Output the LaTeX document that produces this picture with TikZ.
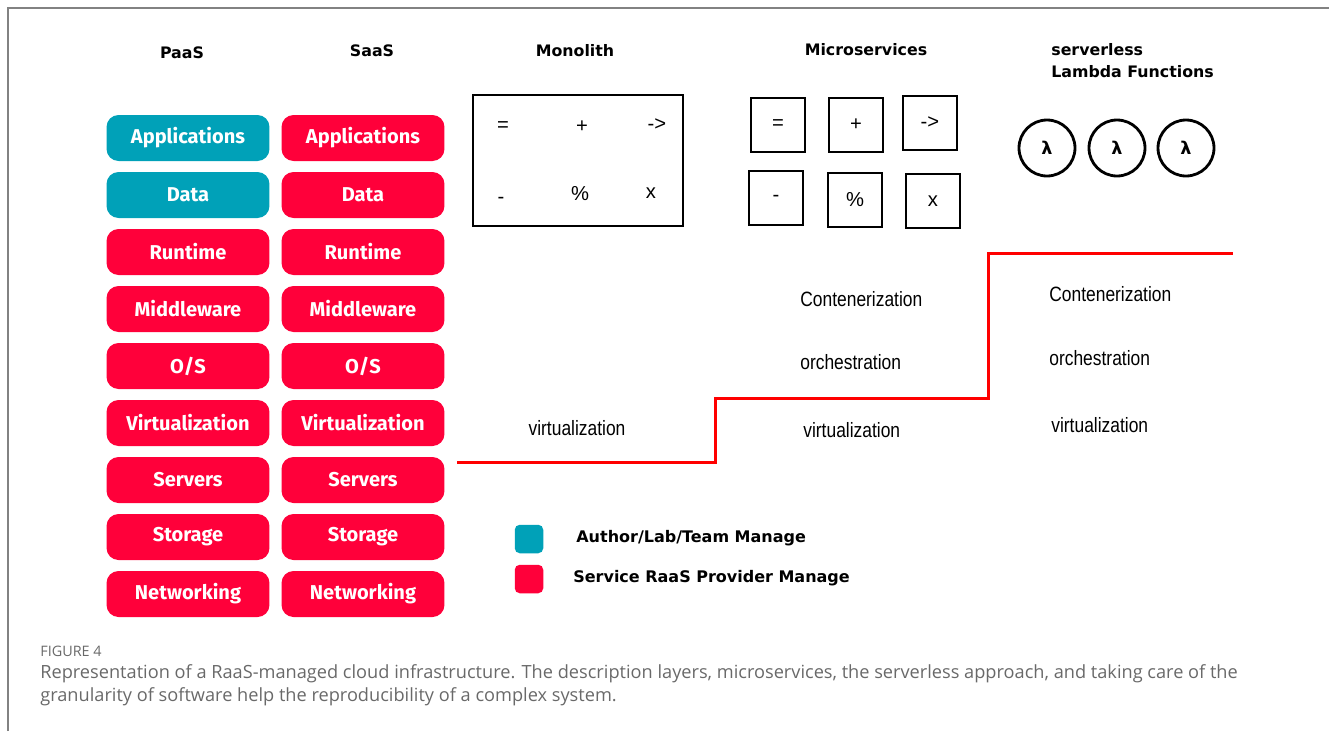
\documentclass[tikz,border=0pt]{standalone}
\usepackage{fontspec}
\setmainfont{Liberation Sans}
\newfontfamily\layerfont{Fira Sans}
\newfontfamily\headfont{DejaVu Sans}
\newfontfamily\narrowfont[FakeStretch=0.84]{Liberation Sans}
\newfontfamily\captionfont{Open Sans}
\definecolor{teamteal}{RGB}{0,161,184}
\definecolor{raasred}{RGB}{255,0,58}
\definecolor{stairred}{RGB}{255,0,0}
\definecolor{captiongray}{RGB}{105,105,105}
\definecolor{framegray}{RGB}{130,130,130}

\begin{document}
\begin{tikzpicture}[
        x=0.02cm, y=-0.02cm,
        every node/.style={inner sep=0pt},
        layer/.style={rounded corners=0.24cm, minimum width=3.26cm, minimum height=0.92cm,
            text=white, font=\layerfont\bfseries\fontsize{11.4}{13}\selectfont},
        heading/.style={font=\headfont\bfseries\fontsize{9}{11}\selectfont},
        opbox/.style={draw, line width=1.6pt, minimum size=1.08cm},
        optext/.style={font=\fontsize{11.5}{13}\selectfont},
        lambda/.style={circle, draw, line width=1.6pt, minimum size=1.12cm,
            font=\headfont\bfseries\fontsize{10}{12}\selectfont},
        level/.style={anchor=west, font=\narrowfont\fontsize{11.8}{14}\selectfont},
        legendkey/.style={rounded corners=0.1cm, minimum size=0.57cm},
        legendtext/.style={anchor=west, font=\headfont\bfseries\fontsize{9.1}{11}\selectfont},
        >=stealth
    ]

        \useasboundingbox (0,0) rectangle (1329,731);
        \draw[framegray, line width=1.1pt] (8,731) -- (8,8) -- (1329,8);

        %--------------------------------
        % headings
        %--------------------------------
        \node[heading] (hpaas) at (182,53) {PaaS};
        \node[heading] (hsaas) at (372,51) {SaaS};
        \node[heading] (hmono) at (575,51) {Monolith};
        \node[heading] (hmicro) at (866,50) {Microservices};
        \node[heading, anchor=west] (hserv) at (1051,50) {serverless};
        \node[heading, anchor=west] (hlambda) at (1051,72) {Lambda Functions};

        %--------------------------------
        % PaaS and SaaS layers
        %--------------------------------
        \foreach \i/\lbl/\c in {1/Applications/teamteal, 2/Data/teamteal, 3/Runtime/raasred,
                4/Middleware/raasred, 5/{O/S}/raasred, 6/Virtualization/raasred,
                7/Servers/raasred, 8/Storage/raasred, 9/Networking/raasred}
            \node[layer, fill=\c] (paas\i) at (188,81+57*\i) {\lbl};

        \foreach \i/\lbl in {1/Applications, 2/Data, 3/Runtime, 4/Middleware, 5/{O/S},
                6/Virtualization, 7/Servers, 8/Storage, 9/Networking}
            \node[layer, fill=raasred] (saas\i) at (363,81+57*\i) {\lbl};

        %--------------------------------
        % Monolith
        %--------------------------------
        \node[draw, line width=1.6pt, minimum width=4.2cm, minimum height=2.62cm] (mono) at (578,160.5) {};

        \foreach \x/\y/\s in {503/127/=, 582/127/+, 657/125/->, 501/200/-, 580/194/\%, 651/193/x}
            \node[optext] at (\x,\y) {\s};

        %--------------------------------
        % Microservices
        %--------------------------------
        \foreach \x/\y/\s/\n in {778/125/=/eq, 856/125/+/plus, 930/123/->/arrow,
                776/198/-/minus, 855/200/\%/pct, 933/201/x/times}
            \node[opbox, optext] (ms\n) at (\x,\y) {\s};

        %--------------------------------
        % serverless
        %--------------------------------
        \foreach \x [count=\i] in {1047,1117,1186}
            \node[lambda] (lam\i) at (\x,148) {λ};

        %--------------------------------
        % levels and staircase
        %--------------------------------
        \node[level, anchor=center] (monovirt) at (577,428) {virtualization};

        \node[level] (mscont) at (800,299) {Contenerization};
        \node[level] (msorch) at (800,362) {orchestration};
        \node[level] (msvirt) at (803,430) {virtualization};

        \node[level] (slcont) at (1049,294) {Contenerization};
        \node[level] (slorch) at (1049,358) {orchestration};
        \node[level] (slvirt) at (1051,425) {virtualization};

        \coordinate (stair0) at (457,462);
        \coordinate (stair1) at (715,398);
        \coordinate (stair2) at (988,253);
        \coordinate (stair3) at (1233,253);
        \draw[stairred, line width=1.7pt] (stair0) -| (stair1) -| (stair2) -- (stair3);

        %--------------------------------
        % legend
        %--------------------------------
        \node[legendkey, fill=teamteal] (keyteam) at (529,539) {};
        \node[legendkey, fill=raasred] (keyraas) at (529,579) {};
        \node[legendtext] (txtteam) at (576,538) {Author/Lab/Team Manage};
        \node[legendtext] (txtraas) at (573,578) {Service RaaS Provider Manage};

        %--------------------------------
        % caption
        %--------------------------------
        \node[anchor=west, text=captiongray, font=\captionfont\fontsize{8.2}{10}\selectfont] (figno) at (40,651) {FIGURE 4};
        \node[anchor=west, text=captiongray, font=\captionfont\fontsize{10.35}{12}\selectfont] (cap1) at (40,674)
            {Representation of a RaaS-managed cloud infrastructure. The description layers, microservices, the serverless approach, and taking care of the};
        \node[anchor=west, text=captiongray, font=\captionfont\fontsize{10.35}{12}\selectfont] (cap2) at (40,697)
            {granularity of software help the reproducibility of a complex system.};

    \end{tikzpicture}
\end{document}
